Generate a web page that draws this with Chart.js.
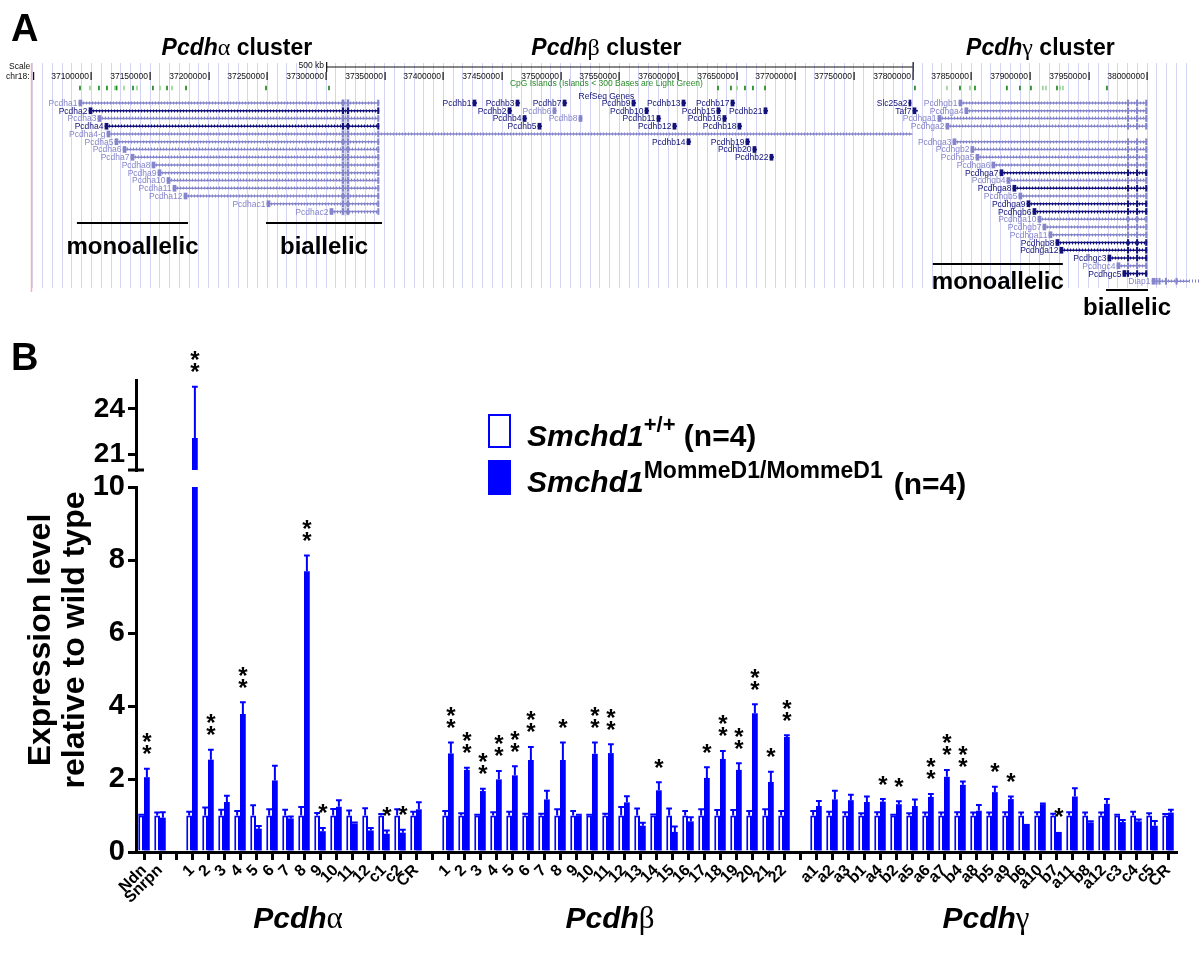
<!DOCTYPE html>
<html>
<head>
<meta charset="utf-8">
<script src="https://cdn.jsdelivr.net/npm/chart.js@4.4.0/dist/chart.umd.min.js"></script>
<style>
  html, body { margin: 0; padding: 0; background: #fff; }
  #wrap { position: relative; width: 1200px; height: 957px; overflow: hidden; background: #fff; }
  canvas { position: absolute; left: 0; top: 0; }
</style>
</head>
<body>
<div id="wrap">
  <canvas id="tracks" width="1200" height="957"></canvas>
  <canvas id="upper" width="1200" height="957"></canvas>
  <canvas id="lower" width="1200" height="957"></canvas>
</div>
<script>
// ---------- Panel B data ----------
const categories = ['Ndn', 'Snrpn', '',
  '1', '2', '3', '4', '5', '6', '7', '8', '9', '10', '11', '12', 'c1', 'c2', 'CR', '',
  '1', '2', '3', '4', '5', '6', '7', '8', '9', '10', '11', '12', '13', '14', '15', '16', '17', '18', '19', '20', '21', '22', '',
  'a1', 'a2', 'a3', 'b1', 'a4', 'b2', 'a5', 'a6', 'a7', 'b4', 'a8', 'b5', 'a9', 'b6', 'a10', 'b7', 'a11', 'b8', 'a12', 'c3', 'c4', 'c5', 'CR'];

const wtMeans = [1.00, 1.00, null,
  1.00, 1.00, 1.00, 1.00, 1.00, 1.00, 1.00, 1.00, 1.00, 1.00, 1.00, 1.00, 1.00, 1.00, 1.00, null,
  1.00, 1.00, 1.00, 1.00, 1.00, 1.00, 1.00, 1.00, 1.00, 1.00, 1.00, 1.00, 1.00, 1.00, 1.00, 1.00, 1.00, 1.00, 1.00, 1.00, 1.00, 1.00, null,
  1.00, 1.00, 1.00, 1.00, 1.00, 1.00, 1.00, 1.00, 1.00, 1.00, 1.00, 1.00, 1.00, 1.00, 1.00, 1.00, 1.00, 1.00, 1.00, 1.00, 1.00, 1.00, 1.00];
const wtErrors = [0.02, 0.08, null,
  0.10, 0.22, 0.16, 0.12, 0.28, 0.17, 0.16, 0.23, 0.07, 0.18, 0.14, 0.20, 0.04, 0.17, 0.10, null,
  0.12, 0.06, 0.02, 0.09, 0.10, 0.05, 0.05, 0.17, 0.12, 0.02, 0.05, 0.23, 0.19, 0.03, 0.19, 0.12, 0.17, 0.15, 0.15, 0.12, 0.17, 0.12, null,
  0.12, 0.10, 0.09, 0.06, 0.09, 0.02, 0.06, 0.08, 0.08, 0.09, 0.08, 0.08, 0.09, 0.08, 0.09, 0.05, 0.09, 0.08, 0.08, 0.02, 0.10, 0.06, 0.04];
const mutMeans = [2.05, 0.94, null,
  22.1, 2.53, 1.37, 3.78, 0.64, 1.96, 0.92, 7.69, 0.57, 1.24, 0.78, 0.59, 0.50, 0.53, 1.17, null,
  2.70, 2.25, 1.67, 1.99, 2.10, 2.52, 1.44, 2.52, 1.00, 2.69, 2.71, 1.36, 0.72, 1.69, 0.55, 0.84, 2.03, 2.55, 2.25, 3.80, 1.92, 3.15, null,
  1.26, 1.44, 1.42, 1.37, 1.38, 1.31, 1.26, 1.51, 2.06, 1.84, 1.13, 1.64, 1.45, 0.77, 1.31, 0.55, 1.52, 0.81, 1.32, 0.82, 0.84, 0.72, 1.08];
const mutErrors = [0.23, 0.15, null,
  3.35, 0.27, 0.17, 0.32, 0.07, 0.40, 0.05, 0.43, 0.09, 0.18, 0.03, 0.07, 0.09, 0.08, 0.19, null,
  0.30, 0.06, 0.06, 0.23, 0.25, 0.36, 0.24, 0.48, 0.02, 0.31, 0.24, 0.17, 0.08, 0.22, 0.15, 0.11, 0.29, 0.22, 0.18, 0.25, 0.28, 0.05, null,
  0.14, 0.24, 0.15, 0.15, 0.07, 0.08, 0.18, 0.08, 0.19, 0.09, 0.16, 0.15, 0.07, 0.00, 0.02, 0.00, 0.23, 0.03, 0.13, 0.06, 0.05, 0.13, 0.08];
const stars = ['**', '', '',
  '**', '**', '', '**', '', '', '', '**', '*', '', '', '', '*', '*', '', '',
  '**', '**', '**', '**', '**', '**', '', '*', '', '**', '**', '', '', '*', '', '', '*', '**', '**', '**', '*', '**', '',
  '', '', '', '', '*', '*', '', '**', '**', '**', '', '*', '*', '', '', '*', '', '', '', '', '', '', ''];

const lowerTicksMax = 10;
const upperTicks = [21, 24];
const upperRange = [20, 25.9];

const groupLetters = ['\u03b1', '\u03b2', '\u03b3'];
const groupFirst = [3, 19, 42];
const groupLast = [17, 40, 64];

// ---------- Panel A data (positions in kb on chr18) ----------
const rulerTicks = [37100, 37150, 37200, 37250, 37300, 37350, 37400, 37450, 37500, 37550,
  37600, 37650, 37700, 37750, 37800, 37850, 37900, 37950, 38000];
const clusterLetters = ['\u03b1', '\u03b2', '\u03b3'];
const clusterCenters = [37224, 37539, 37909];

const geneNames = ['Pcdha1', 'Pcdha2', 'Pcdha3', 'Pcdha4', 'Pcdha4-g', 'Pcdha5', 'Pcdha6', 'Pcdha7', 'Pcdha8',
  'Pcdha9', 'Pcdha10', 'Pcdha11', 'Pcdha12', 'Pcdhac1', 'Pcdhac2',
  'Pcdhb1', 'Pcdhb2', 'Pcdhb3', 'Pcdhb4', 'Pcdhb5', 'Pcdhb6', 'Pcdhb7', 'Pcdhb8', 'Pcdhb9', 'Pcdhb10', 'Pcdhb11',
  'Pcdhb12', 'Pcdhb13', 'Pcdhb14', 'Pcdhb15', 'Pcdhb16', 'Pcdhb17', 'Pcdhb18', 'Pcdhb19', 'Pcdhb20', 'Pcdhb21', 'Pcdhb22',
  'Slc25a2', 'Taf7',
  'Pcdhgb1', 'Pcdhga4', 'Pcdhga1', 'Pcdhga2', 'Pcdhga3', 'Pcdhgb2', 'Pcdhga5', 'Pcdhga6', 'Pcdhga7', 'Pcdhgb4',
  'Pcdhga8', 'Pcdhgb5', 'Pcdhga9', 'Pcdhgb6', 'Pcdhga10', 'Pcdhgb7', 'Pcdhga11', 'Pcdhgb8', 'Pcdhga12',
  'Pcdhgc3', 'Pcdhgc4', 'Pcdhgc5', 'Diap1'];
const geneStart = [37089.3, 37097.9, 37105.5, 37111.5, 37113.2, 37120.0, 37126.9, 37133.7, 37151.6,
  37156.7, 37164.4, 37169.5, 37178.9, 37249.6, 37303.3,
  37425.2, 37455.1, 37461.9, 37467.9, 37480.6, 37493.4, 37502.0, 37515.6, 37560.8, 37571.9, 37582.1,
  37595.7, 37603.4, 37607.7, 37633.2, 37638.3, 37645.2, 37651.1, 37657.9, 37663.9, 37673.3, 37678.4,
  37796.9, 37800.3,
  37839.5, 37844.6, 37821.6, 37828.4, 37834.4, 37849.7, 37854.0, 37867.6, 37874.5, 37880.4,
  37885.5, 37890.6, 37897.5, 37902.6, 37906.9, 37911.1, 37916.2, 37922.2, 37925.6,
  37966.5, 37974.2, 37979.3, 38004.1];
const geneEnd = [37345.1, 37345.1, 37345.1, 37345.1, 37799.5, 37345.1, 37345.1, 37345.1, 37345.1,
  37345.1, 37345.1, 37345.1, 37345.1, 37345.1, 37345.1,
  37428.4, 37458.3, 37465.1, 37471.1, 37483.8, 37496.2, 37505.2, 37518.2, 37564.0, 37575.1, 37585.3,
  37598.9, 37606.6, 37610.9, 37636.4, 37641.5, 37648.4, 37654.3, 37661.1, 37667.1, 37676.5, 37681.6,
  37798.6, 37804.2,
  37999.8, 37999.8, 37999.8, 37999.8, 37999.8, 37999.8, 37999.8, 37999.8, 37999.8, 37999.8,
  37999.8, 37999.8, 37999.8, 37999.8, 37999.8, 37999.8, 37999.8, 37999.8, 37999.8,
  37999.8, 37999.8, 37999.8, 38046.0];
const geneRow = [0, 1, 2, 3, 4, 5, 6, 7, 8, 9, 10, 11, 12, 13, 14,
  0, 1, 0, 2, 3, 1, 0, 2, 0, 1, 2, 3, 0, 5, 1, 2, 0, 3, 5, 6, 1, 7,
  0, 1,
  0, 1, 2, 3, 5, 6, 7, 8, 9, 10, 11, 12, 13, 14, 15, 16, 17, 18, 19, 20, 21, 22, 23];
const geneDark = [0, 1, 0, 1, 0, 0, 0, 0, 0, 0, 0, 0, 0, 0, 0,
  1, 1, 1, 1, 1, 0, 1, 0, 1, 1, 1, 1, 1, 1, 1, 1, 1, 1, 1, 1, 1, 1,
  1, 1,
  0, 0, 0, 0, 0, 0, 0, 0, 1, 0, 1, 0, 1, 1, 0, 0, 0, 1, 1, 1, 0, 1, 0];
const geneCluster = ['a', 'a', 'a', 'a', 'a', 'a', 'a', 'a', 'a', 'a', 'a', 'a', 'a', 'a', 'a',
  'b', 'b', 'b', 'b', 'b', 'b', 'b', 'b', 'b', 'b', 'b', 'b', 'b', 'b', 'b', 'b', 'b', 'b', 'b', 'b', 'b', 'b',
  'o', 'o',
  'g', 'g', 'g', 'g', 'g', 'g', 'g', 'g', 'g', 'g', 'g', 'g', 'g', 'g', 'g', 'g', 'g', 'g', 'g', 'g', 'g', 'g', 'd'];
const alphaConstExons = [37314.4, 37318.7, 37344.5];
const gammaConstExons = [37983.7, 37991.4, 37999.2];
const diapExons = [38008.0, 38010.5, 38016.0, 38025.0];

const cpgPos = [37090.2, 37098.7, 37106.4, 37113.2, 37120.0, 37121.4, 37127.7, 37135.4, 37138.8, 37152.4, 37158.4,
  37164.4, 37168.6, 37180.6, 37248.8, 37302.5,
  37634.1, 37645.2, 37650.3, 37657.1, 37663.9, 37674.2,
  37802.0, 37829.3, 37840.4, 37848.9, 37853.2, 37880.4, 37891.5, 37900.9, 37911.1, 37913.7, 37923.1,
  37925.6, 37928.2, 37965.7];
const cpgLight = [0, 1, 0, 0, 1, 0, 1, 0, 1, 0, 1, 0, 1, 0, 0, 0,
  0, 0, 1, 0, 0, 0,
  0, 1, 0, 1, 0, 0, 0, 0, 1, 1, 0, 1, 1, 0];

const alleleNames = ['monoallelic', 'biallelic', 'monoallelic', 'biallelic'];
const alleleFrom = [37087.6, 37248.8, 37817.3, 37964.9];
const alleleTo = [37182.3, 37347.7, 37928.1, 38000.7];

// ---------- styles ----------
const BLUE = '#0000ff';
const DARK = '#12127a';
const LIGHT = '#8585cc';
const GUIDE = '#d3d4f3';
const GUIDE_STEP = 50 / 6;   // browser guide lines, kb
const SANS = 'Arial, "Liberation Sans", Helvetica, sans-serif';
const SERIF = '"Liberation Serif", "Times New Roman", serif';

function drawParts(ctx, parts, cx, baseline, align) {
  let total = 0;
  parts.forEach(p => { ctx.font = p.font; p.w = ctx.measureText(p.text).width; total += p.w; });
  let x = align === 'left' ? cx : cx - total / 2;
  ctx.textAlign = 'left';
  ctx.textBaseline = 'alphabetic';
  parts.forEach(p => {
    ctx.font = p.font;
    ctx.fillText(p.text, x, baseline - (p.rise || 0));
    x += p.w;
  });
  return x;
}

// ---------- Panel A: genome browser tracks ----------
const bodyData = geneNames.map((n, i) => ({ x: [geneStart[i], geneEnd[i]], y: geneRow[i] }));
const geneColors = geneDark.map(d => d ? DARK : LIGHT);
const firstExonData = geneNames.map((n, i) => ({ x: [geneStart[i], Math.min(geneStart[i] + 2.6, geneEnd[i])], y: geneRow[i] }));
const constData = [];
const constColors = [];
geneNames.forEach((n, i) => {
  const list = geneCluster[i] === 'a' ? alphaConstExons : geneCluster[i] === 'g' ? gammaConstExons :
    geneCluster[i] === 'd' ? diapExons : [];
  list.forEach(p => {
    constData.push({ x: [p - 0.6, p + 0.6], y: geneRow[i] });
    constColors.push(geneColors[i]);
  });
});
const CPG_ROW = -1.94;
const cpgData = cpgPos.map(p => ({ x: [p - 0.45, p + 0.45], y: CPG_ROW }));

const trackDecor = {
  id: 'trackDecor',
  beforeDatasetsDraw(chart) {
    // pale band over the shared constant exons of the alpha cluster
    const { ctx, scales: { x, y } } = chart;
    ctx.save();
    ctx.fillStyle = 'rgba(150,150,215,0.35)';
    const a = x.getPixelForValue(alphaConstExons[0] - 1.5), b = x.getPixelForValue(alphaConstExons[1] + 1.5);
    ctx.fillRect(a, y.getPixelForValue(-0.5), b - a, y.getPixelForValue(14.5) - y.getPixelForValue(-0.5));
    ctx.restore();
  },
  afterDatasetsDraw(chart) {
    const { ctx, scales: { x, y } } = chart;
    ctx.save();
    // intron marks and gene labels
    geneNames.forEach((name, i) => {
      const x0 = x.getPixelForValue(geneStart[i]);
      const x1 = x.getPixelForValue(geneEnd[i]);
      const yy = Math.round(y.getPixelForValue(geneRow[i]));
      ctx.fillStyle = geneColors[i];
      if (x1 - x0 > 12) {
        for (let px = x0 + 4; px < x1 - 1; px += 3) ctx.fillRect(Math.round(px), yy - 1.5, 1, 3);
      }
      ctx.font = '8.5px ' + SANS;
      ctx.textAlign = 'right';
      ctx.textBaseline = 'middle';
      ctx.fillText(name, x0 - 1.5, yy + 0.5);
    });
    ctx.restore();
  },
  afterDraw(chart) {
    const { ctx, scales: { x, y }, chartArea } = chart;
    ctx.save();
    // left margin line
    ctx.strokeStyle = '#f2b3b3';
    ctx.lineWidth = 1.5;
    ctx.beginPath();
    ctx.moveTo(chartArea.left - 0.5, 63);
    ctx.lineTo(chartArea.left - 0.5, 292);
    ctx.stroke();

    // base ruler
    ctx.fillStyle = '#111';
    ctx.font = '8.5px ' + SANS;
    ctx.textAlign = 'right';
    ctx.textBaseline = 'middle';
    rulerTicks.forEach(v => {
      const px = Math.round(x.getPixelForValue(v));
      ctx.fillText(String(Math.round(v * 1000)), px - 2, 76.5);
      ctx.fillRect(px - 0.5, 72, 1.2, 8);
    });
    ctx.textAlign = 'left';
    ctx.fillText('Scale', 9, 67);
    ctx.fillText('chr18:', 6, 77);
    ctx.fillRect(33, 72, 1.2, 8);

    // 500 kb scale bar
    const s0 = x.getPixelForValue(37300), s1 = x.getPixelForValue(37800);
    ctx.fillRect(s0, 66.5, s1 - s0, 1);
    ctx.fillRect(s0, 62, 1.2, 10);
    ctx.fillRect(s1, 62, 1.2, 10);
    ctx.textAlign = 'right';
    ctx.fillText('500 kb', s0 - 2, 66);

    // track titles
    ctx.textAlign = 'center';
    ctx.fillStyle = '#2c8a2c';
    ctx.fillText('CpG Islands (Islands < 300 Bases are Light Green)', x.getPixelForValue(37539), 84);
    ctx.fillStyle = DARK;
    ctx.fillText('RefSeq Genes', x.getPixelForValue(37539), 97);

    // cluster titles
    ctx.fillStyle = '#000';
    clusterLetters.forEach((g, i) => {
      drawParts(ctx, [
        { text: 'Pcdh', font: 'italic bold 23px ' + SANS },
        { text: g, font: '24px ' + SERIF },
        { text: ' cluster', font: 'bold 23px ' + SANS }
      ], x.getPixelForValue(clusterCenters[i]), 55);
    });

    // mono/biallelic brackets
    const lineY = [223, 223, 264, 290];
    const textY = [254, 254, 289, 315];
    alleleNames.forEach((t, i) => {
      const a = x.getPixelForValue(alleleFrom[i]);
      const b = x.getPixelForValue(alleleTo[i]);
      ctx.fillRect(a, lineY[i] - 1, b - a, 2);
      ctx.font = 'bold 24px ' + SANS;
      ctx.textAlign = 'center';
      ctx.textBaseline = 'alphabetic';
      ctx.fillText(t, (a + b) / 2, textY[i]);
    });

    // panel letters
    ctx.textAlign = 'left';
    ctx.font = 'bold 38px ' + SANS;
    ctx.fillText('A', 11, 41);
    ctx.fillText('B', 11, 370);
    ctx.restore();
  }
};

new Chart(document.getElementById('tracks'), {
  type: 'bar',
  data: {
    datasets: [
      { data: cpgData, backgroundColor: cpgLight.map(l => l ? '#9ad69a' : '#1f8a1f'), barThickness: 4, grouped: false },
      { data: bodyData, backgroundColor: geneColors, barThickness: 1, grouped: false },
      { data: firstExonData, backgroundColor: geneColors, barThickness: 6, grouped: false },
      { data: constData, backgroundColor: constColors, barThickness: 6, grouped: false }
    ]
  },
  options: {
    indexAxis: 'y',
    responsive: false,
    animation: false,
    layout: { padding: { top: 63, bottom: 957 - 288, left: 32, right: 10 } },
    plugins: { legend: { display: false }, tooltip: { enabled: false } },
    scales: {
      x: {
        type: 'linear', position: 'top', min: 37049.3, max: 38036.5,
        ticks: { display: false },
        afterBuildTicks(s) {
          const guides = [];
          for (let k = Math.ceil((s.min - 37100) / GUIDE_STEP); 37100 + k * GUIDE_STEP <= s.max; k++) {
            guides.push({ value: 37100 + k * GUIDE_STEP });
          }
          s.ticks = guides;
        },
        grid: { color: GUIDE, lineWidth: 1, drawTicks: false },
        border: { display: false },
        afterFit(s) { s.height = 0; }
      },
      y: { type: 'linear', reverse: true, offset: false, min: -5.16, max: 23.87, display: false }
    }
  },
  plugins: [trackDecor]
});

// ---------- Panel B: bars ----------
const barExtras = {
  id: 'barExtras',
  afterDatasetsDraw(chart) {
    const { ctx, scales: { y } } = chart;
    ctx.save();
    ctx.strokeStyle = BLUE;
    ctx.lineWidth = 2;
    chart.data.datasets.forEach((ds, di) => {
      const meta = chart.getDatasetMeta(di);
      meta.data.forEach((bar, i) => {
        const mean = ds.data[i];
        if (mean == null || mean > y.max || mean < y.min) return;
        const err = ds.errors[i] || 0;
        const yTop = y.getPixelForValue(mean + err);
        if (err > 0) {
          const y0 = y.getPixelForValue(mean);
          const half = bar.width / 2;
          ctx.beginPath();
          ctx.moveTo(bar.x, y0);
          ctx.lineTo(bar.x, yTop);
          ctx.moveTo(bar.x - half, yTop);
          ctx.lineTo(bar.x + half, yTop);
          ctx.stroke();
        }
        const mark = ds.stars ? ds.stars[i] : '';
        if (mark) {
          ctx.fillStyle = '#000';
          ctx.font = 'bold 24px ' + SANS;
          ctx.textAlign = 'center';
          ctx.textBaseline = 'alphabetic';
          const m = ctx.measureText('*');
          const shift = (m.actualBoundingBoxDescent - m.actualBoundingBoxAscent) / 2;
          for (let k = 0; k < mark.length; k++) {
            const cy = yTop - 19 - k * 12;
            ctx.fillText('*', bar.x, cy - shift);
          }
        }
      });
    });
    ctx.restore();
  }
};

const lowerDecor = {
  id: 'lowerDecor',
  afterDraw(chart) {
    const { ctx, scales: { x } } = chart;
    ctx.save();
    ctx.fillStyle = '#000';
    // family labels under the axis
    groupLetters.forEach((g, i) => {
      const cx = (x.getPixelForValue(groupFirst[i]) + x.getPixelForValue(groupLast[i])) / 2;
      drawParts(ctx, [
        { text: 'Pcdh', font: 'italic bold 30px ' + SANS },
        { text: g, font: '31px ' + SERIF }
      ], cx - 6, 928);
    });

    // y title
    ctx.save();
    ctx.translate(57, 640);
    ctx.rotate(-Math.PI / 2);
    ctx.font = 'bold 32px ' + SANS;
    ctx.textAlign = 'center';
    ctx.textBaseline = 'middle';
    ctx.fillText('Expression level', 0, -16);
    ctx.fillText('relative to wild type', 0, 18);
    ctx.restore();

    // legend
    const ds = chart.data.datasets;
    ctx.strokeStyle = ds[0].borderColor;
    ctx.lineWidth = 2;
    ctx.strokeRect(489, 415, 21, 32);
    ctx.fillStyle = ds[1].backgroundColor;
    ctx.fillRect(488, 460, 23, 35);
    ctx.fillStyle = '#000';
    drawParts(ctx, [
      { text: 'Smchd1', font: 'italic bold 30px ' + SANS },
      { text: '+/+', font: 'bold 22px ' + SANS, rise: 14 },
      { text: ' (n=4)', font: 'bold 30px ' + SANS }
    ], 527, 446, 'left');
    const end = drawParts(ctx, [
      { text: 'Smchd1', font: 'italic bold 30px ' + SANS },
      { text: 'MommeD1/MommeD1', font: 'bold 23px ' + SANS, rise: 14 }
    ], 527, 492, 'left');
    drawParts(ctx, [{ text: '(n=4)', font: 'bold 30px ' + SANS }], end + 11, 494, 'left');
    ctx.restore();
  }
};

const upperDecor = {
  id: 'upperDecor',
  afterDraw(chart) {
    const { ctx, chartArea } = chart;
    ctx.save();
    ctx.fillStyle = '#000';
    ctx.fillRect(chartArea.left - 8, chartArea.bottom - 1.5, 16, 3);
    ctx.restore();
  }
};

function barDatasets() {
  return [
    { label: 'Smchd1 +/+', data: wtMeans, errors: wtErrors, backgroundColor: '#ffffff', borderColor: BLUE, borderWidth: 2 },
    { label: 'Smchd1 MommeD1/MommeD1', data: mutMeans, errors: mutErrors, stars: stars, backgroundColor: BLUE, borderWidth: 0 }
  ];
}

const axisFont = size => ({ family: SANS, size: size, weight: 'bold' });

new Chart(document.getElementById('lower'), {
  type: 'bar',
  data: { labels: categories, datasets: barDatasets() },
  options: {
    responsive: false,
    animation: false,
    layout: { padding: { top: 487, right: 24, bottom: 0, left: 0 } },
    datasets: { bar: { categoryPercentage: 0.72, barPercentage: 1.0 } },
    plugins: { legend: { display: false }, tooltip: { enabled: false } },
    scales: {
      x: {
        offset: true,
        grid: { offset: false, drawOnChartArea: false, color: '#000', lineWidth: 3, tickLength: 8 },
        border: { color: '#000', width: 3 },
        ticks: { autoSkip: false, maxRotation: 45, minRotation: 45, color: '#000', font: axisFont(16), padding: 1 },
        afterFit(s) { s.height = 105; }
      },
      y: {
        min: 0, max: lowerTicksMax,
        ticks: { stepSize: 2, color: '#000', font: axisFont(29), padding: 3 },
        grid: { drawOnChartArea: false, color: '#000', lineWidth: 3, tickLength: 8 },
        border: { color: '#000', width: 3 },
        afterFit(s) { s.width = 136; }
      }
    }
  },
  plugins: [barExtras, lowerDecor]
});

new Chart(document.getElementById('upper'), {
  type: 'bar',
  data: { labels: categories, datasets: barDatasets() },
  options: {
    responsive: false,
    animation: false,
    layout: { padding: { top: 380, right: 24, bottom: 957 - 470, left: 0 } },
    datasets: { bar: { categoryPercentage: 0.72, barPercentage: 1.0 } },
    plugins: { legend: { display: false }, tooltip: { enabled: false } },
    scales: {
      x: { display: false, offset: true },
      y: {
        min: upperRange[0], max: upperRange[1],
        afterBuildTicks(s) { s.ticks = upperTicks.map(v => ({ value: v })); },
        ticks: { color: '#000', font: axisFont(28), padding: 3 },
        grid: { drawOnChartArea: false, color: '#000', lineWidth: 3, tickLength: 8 },
        border: { color: '#000', width: 3 },
        afterFit(s) { s.width = 136; }
      }
    }
  },
  plugins: [barExtras, upperDecor]
});
</script>
</body>
</html>
